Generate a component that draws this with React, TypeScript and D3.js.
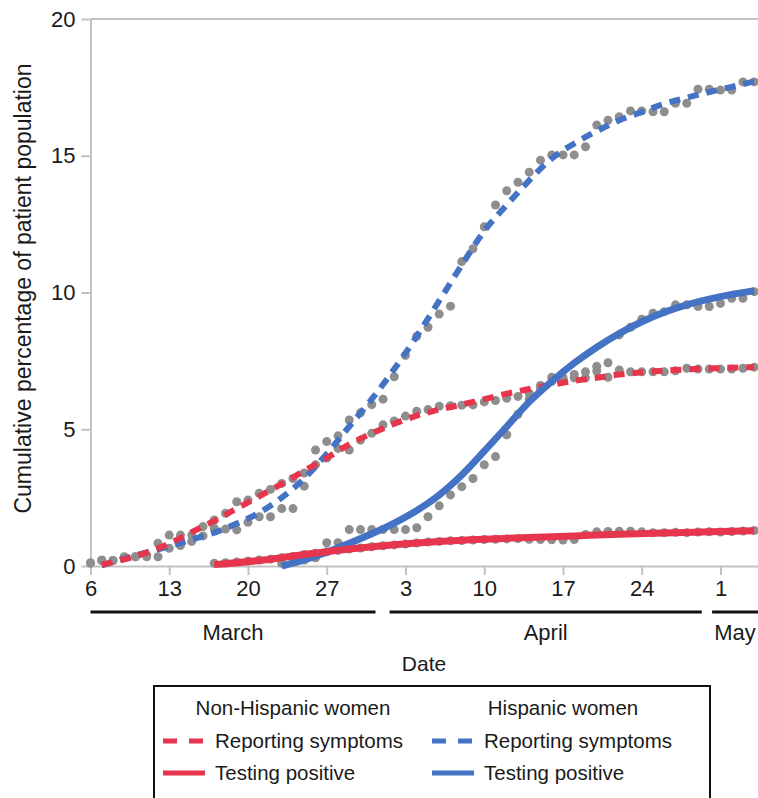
import React, { useEffect, useRef } from 'react'
import * as d3 from 'd3'

// day 0 = March 6, 2020; observed values are daily cumulative percentages
const startDate = new Date(2020, 2, 6)
const endDate = new Date(2020, 4, 4, 8)

// gray dots: reporting symptoms, one value per day from March 6
const nonHispSymptomsObs = [
  0.1, 0.2, 0.2, 0.3, 0.34, 0.4, 0.83, 1.13, 1.13, 1.13,
  1.44, 1.68, 1.93, 2.35, 2.41, 2.66, 2.8, 3.02, 3.2, 3.4,
  3.7, 3.95, 4.3, 4.24, 4.6, 4.85, 5.16, 5.3, 5.48, 5.66,
  5.72, 5.84, 5.86, 5.88, 5.89, 6.0, 6.05, 6.13, 6.2, 6.31,
  6.6, 6.75, 6.8, 6.88, 6.88, 7.13, 6.9, 7.17, 7.1, 7.1,
  7.1, 7.1, 7.14, 7.23, 7.2, 7.2, 7.2, 7.2, 7.23, 7.27
]
const hispSymptomsObs = [
  0.12, 0.22, 0.2, 0.34, 0.34, 0.34, 0.34, 0.65, 0.75, 0.9,
  1.1, 1.38, 1.35, 1.32, 1.6, 1.8, 1.8, 2.1, 2.1, 2.92,
  4.24, 4.55, 4.76, 5.34, 5.6, 5.9, 6.1, 6.92, 7.7, 8.4,
  8.73, 9.21, 9.5, 11.13, 11.6, 12.4, 13.2, 13.72, 14.03, 14.4,
  14.84, 15.03, 15.03, 15.03, 15.33, 16.12, 16.3, 16.43, 16.64, 16.64,
  16.61, 16.61, 16.92, 16.92, 17.43, 17.43, 17.4, 17.4, 17.7, 17.7
]

// gray dots: testing positive (non-Hispanic from March 17, Hispanic from March 23)
const nonHispPositiveFirstDay = 11
const nonHispPositiveObs = [
  0.1, 0.12, 0.15, 0.18, 0.22, 0.25, 0.3, 0.35, 0.42, 0.47,
  0.52, 0.57, 0.62, 0.66, 0.7, 0.74, 0.77, 0.8, 0.84, 0.88,
  0.9, 0.92, 0.93, 0.95, 0.97, 0.98, 0.99, 1.0, 0.98, 0.97,
  0.96, 0.95, 0.97, 1.15, 1.25, 1.26, 1.27, 1.27, 1.25, 1.22,
  1.22, 1.23, 1.22, 1.24, 1.25, 1.24, 1.26, 1.28, 1.3
]
const hispPositiveFirstDay = 17
const hispPositiveObs = [
  0.1, 0.16, 0.22, 0.3, 0.85, 0.85, 1.33, 1.33, 1.33, 1.33,
  1.33, 1.33, 1.4, 1.8, 2.2, 2.6, 2.9, 3.2, 3.7, 4.0,
  4.8, 5.55, 6.1, 6.5, 6.9, 6.9, 7.0, 7.1, 7.3, 7.43,
  8.45, 8.73, 9.02, 9.24, 9.3, 9.55, 9.55, 9.49, 9.49, 9.6,
  9.79, 9.79, 10.03
]

// fitted curves
// symptoms: every 2 days from day 1
const nonHispSymptomsFit = [
  0.05, 0.24, 0.49, 0.82, 1.24, 1.65, 2.1, 2.55, 3.0, 3.48,
  3.95, 4.45, 4.85, 5.2, 5.5, 5.72, 5.9, 6.1, 6.3, 6.47,
  6.63, 6.77, 6.88, 7.0, 7.08, 7.14, 7.19, 7.22, 7.25, 7.27
]
const hispSymptomsFit = [
  0.02, 0.27, 0.5, 0.72, 0.97, 1.22, 1.55, 1.95, 2.5, 3.2,
  4.1, 5.1, 6.1, 7.2, 8.4, 9.7, 11.0, 12.25, 13.2, 14.1,
  14.9, 15.45, 15.9, 16.3, 16.6, 16.9, 17.12, 17.33, 17.52, 17.72
]
// non-Hispanic positive: every 4 days from day 11
const nonHispPositiveFit = [0.05, 0.2, 0.42, 0.62, 0.78, 0.9, 0.98, 1.04, 1.1, 1.16, 1.21, 1.25, 1.29]
// Hispanic positive: every 2 days from day 17
const hispPositiveFit = [
  0.0, 0.22, 0.5, 0.83, 1.18, 1.57, 2.03, 2.6, 3.33, 4.2, 5.1,
  6.0, 6.75, 7.42, 8.0, 8.5, 8.93, 9.28, 9.55, 9.76, 9.93, 10.07
]

const yTicks = [0, 5, 10, 15, 20]
const xTickDates = [
  new Date(2020, 2, 6), new Date(2020, 2, 13), new Date(2020, 2, 20), new Date(2020, 2, 27),
  new Date(2020, 3, 3), new Date(2020, 3, 10), new Date(2020, 3, 17), new Date(2020, 3, 24),
  new Date(2020, 4, 1)
]
const monthLabels = ['March', 'April', 'May']
const monthBandStart = [new Date(2020, 2, 6), new Date(2020, 3, 1, 14), new Date(2020, 3, 30, 6)]
const monthBandEnd = [new Date(2020, 2, 31, 8), new Date(2020, 3, 29, 8), endDate]

const RED = '#e8354e'
const BLUE = '#4472c4'
const GRAY = '#8e8e8e'
const AXIS = '#c2c2c2'
const INK = '#1a1a1a'
const FONT = '"Liberation Sans", Arial, sans-serif'

export default function App () {
  const ref = useRef<SVGSVGElement>(null)

  useEffect(() => {
    const svg = d3.select(ref.current)
    svg.selectAll('*').remove()

    const x = d3.scaleTime().domain([startDate, endDate]).range([90.5, 758])
    const y = d3.scaleLinear().domain([0, 20]).range([566, 19])
    const dayDate = (d: number) => d3.timeDay.offset(startDate, d)

    // top border line at 20
    svg.append('line')
      .attr('x1', x(startDate)).attr('x2', 758)
      .attr('y1', y(20)).attr('y2', y(20))
      .attr('stroke', AXIS).attr('stroke-width', 2)

    // y axis
    const yAxis = svg.append('g')
      .attr('transform', 'translate(' + x(startDate) + ',0)')
      .call(d3.axisLeft(y).tickValues(yTicks).tickSize(9).tickSizeOuter(0).tickPadding(6))
    yAxis.select('.domain').attr('stroke', AXIS).attr('stroke-width', 2)
    yAxis.selectAll('.tick line').attr('stroke', AXIS).attr('stroke-width', 2)
    yAxis.selectAll('.tick text')
      .attr('font-size', 22).attr('font-family', FONT).attr('fill', INK)

    // x axis
    const xAxis = svg.append('g')
      .attr('transform', 'translate(0,' + y(0) + ')')
      .call(d3.axisBottom(x).tickValues(xTickDates).tickFormat(d3.timeFormat('%-d') as any)
        .tickSize(9).tickSizeOuter(0).tickPadding(5))
    xAxis.select('.domain').attr('stroke', AXIS).attr('stroke-width', 2)
    xAxis.selectAll('.tick line').attr('stroke', AXIS).attr('stroke-width', 2)
    xAxis.selectAll('.tick text')
      .attr('font-size', 22).attr('font-family', FONT).attr('fill', INK)

    // month bands under the axis
    monthLabels.forEach((m, i) => {
      const x0 = x(monthBandStart[i])
      const x1 = Math.min(x(monthBandEnd[i]), 758)
      svg.append('line')
        .attr('x1', x0).attr('x2', x1).attr('y1', 612).attr('y2', 612)
        .attr('stroke', '#111').attr('stroke-width', 3)
      svg.append('text')
        .attr('x', (x0 + x1) / 2).attr('y', 640)
        .attr('text-anchor', 'middle')
        .attr('font-size', 22).attr('font-family', FONT).attr('fill', INK)
        .text(m)
    })

    svg.append('text')
      .attr('x', 424).attr('y', 671)
      .attr('text-anchor', 'middle')
      .attr('font-size', 21).attr('font-family', FONT).attr('fill', INK)
      .text('Date')

    svg.append('text')
      .attr('transform', 'translate(31,' + (y(10) - 4) + ') rotate(-90)')
      .attr('text-anchor', 'middle')
      .attr('font-size', 23).attr('font-family', FONT).attr('fill', INK)
      .text('Cumulative percentage of patient population')

    // observed dots
    const obsSeries: [number, number[]][] = [
      [0, nonHispSymptomsObs],
      [0, hispSymptomsObs],
      [nonHispPositiveFirstDay, nonHispPositiveObs],
      [hispPositiveFirstDay, hispPositiveObs]
    ]
    const dots = svg.append('g')
    obsSeries.forEach(([first, vals]) => {
      dots.selectAll(null)
        .data(vals)
        .enter()
        .append('circle')
        .attr('cx', (d, i) => x(dayDate(first + i)))
        .attr('cy', (d) => y(d))
        .attr('r', 4.5)
        .attr('fill', GRAY)
    })

    // fitted curves
    const line = d3.line<[number, number]>()
      .x((d) => x(dayDate(d[0])))
      .y((d) => y(d[1]))
      .curve(d3.curveMonotoneX)

    const fits: { first: number, step: number, vals: number[], color: string, dash: string | null, width: number }[] = [
      { first: 1, step: 2, vals: hispSymptomsFit, color: BLUE, dash: '11 8', width: 6 },
      { first: 1, step: 2, vals: nonHispSymptomsFit, color: RED, dash: '11 8', width: 6 },
      { first: hispPositiveFirstDay, step: 2, vals: hispPositiveFit, color: BLUE, dash: null, width: 7 },
      { first: nonHispPositiveFirstDay, step: 4, vals: nonHispPositiveFit, color: RED, dash: null, width: 7 }
    ]
    fits.forEach((f) => {
      const pts = f.vals.map((v, i) => [f.first + i * f.step, v] as [number, number])
      svg.append('path')
        .attr('d', line(pts))
        .attr('fill', 'none')
        .attr('stroke', f.color)
        .attr('stroke-width', f.width)
        .attr('stroke-dasharray', f.dash)
    })

    // legend
    const legend = svg.append('g').attr('font-family', FONT).attr('font-size', 20.5).attr('fill', INK)
    legend.append('rect')
      .attr('x', 154).attr('y', 686).attr('width', 556).attr('height', 130)
      .attr('fill', 'none').attr('stroke', '#111').attr('stroke-width', 2)
    legend.append('text').attr('x', 293).attr('y', 715).attr('text-anchor', 'middle').text('Non-Hispanic women')
    legend.append('text').attr('x', 563).attr('y', 715).attr('text-anchor', 'middle').text('Hispanic women')

    const items = [
      { col: 0, row: 0, color: RED, dash: '14 12', label: 'Reporting symptoms' },
      { col: 1, row: 0, color: BLUE, dash: '14 12', label: 'Reporting symptoms' },
      { col: 0, row: 1, color: RED, dash: null, label: 'Testing positive' },
      { col: 1, row: 1, color: BLUE, dash: null, label: 'Testing positive' }
    ]
    items.forEach((it) => {
      const lx = 163 + it.col * 269
      const ly = 748 + it.row * 32
      legend.append('line')
        .attr('x1', lx).attr('x2', lx + 42)
        .attr('y1', ly - 7).attr('y2', ly - 7)
        .attr('stroke', it.color).attr('stroke-width', 5)
        .attr('stroke-dasharray', it.dash)
      legend.append('text').attr('x', lx + 52).attr('y', ly).text(it.label)
    })
  }, [])

  return (
    <svg
      ref={ref}
      width={758}
      height={798}
      style={{ position: 'absolute', left: 0, top: 0, background: '#fff' }}
    />
  )
}
